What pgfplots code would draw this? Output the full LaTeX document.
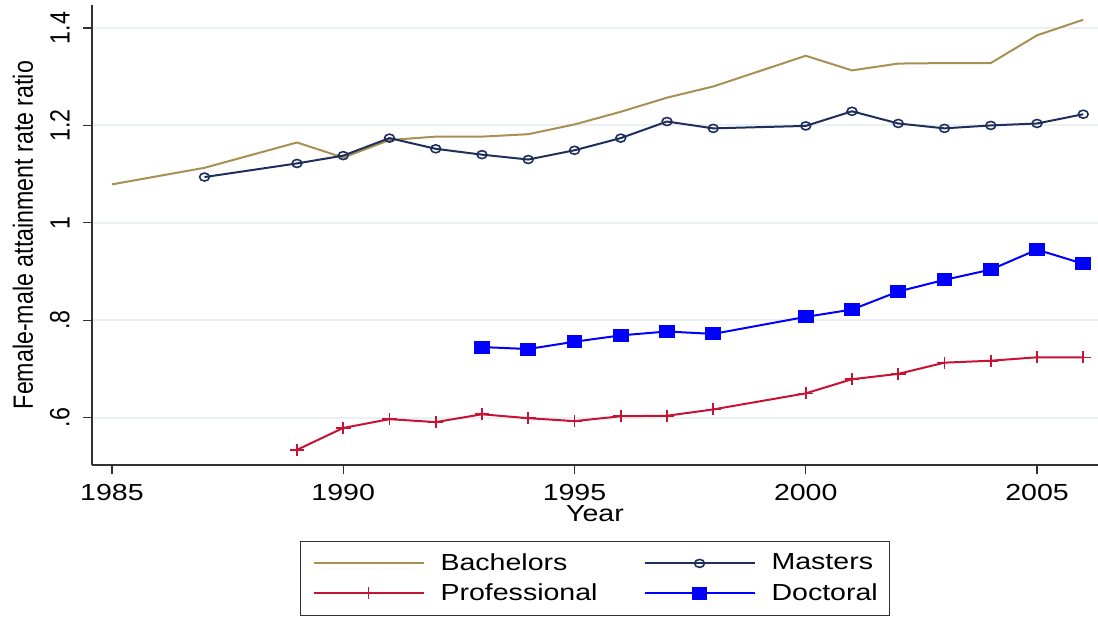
\documentclass[border=0pt]{standalone}
\usepackage{fontspec}
\setmainfont{Liberation Sans}[FakeStretch=1.23]
\newfontfamily\uprightsans{Liberation Sans}
\usepackage{graphicx}
\usepackage{pgfplots}
\pgfplotsset{compat=1.18}

\definecolor{bachcol}{RGB}{168,144,82}
\definecolor{mastcol}{RGB}{32,46,92}
\definecolor{profcol}{RGB}{200,18,52}
\definecolor{doccol}{RGB}{0,0,255}
\definecolor{gridcol}{RGB}{234,241,243}
\definecolor{axiscol}{RGB}{50,50,50}

\newcommand{\lblfont}{\fontsize{11.6}{13.9}\selectfont}
\newcommand{\rot}[1]{\scalebox{1}[1.2]{\uprightsans\lblfont #1}}

\begin{document}
\begin{tikzpicture}
\begin{axis}[
  name=ax, at={(0,0)}, anchor=south west,
  scale only axis, width=503pt, height=230pt,
  xmin=1984.568, xmax=2006.319,
  ymin=0.5029, ymax=1.4472,
  axis lines*=left,
  axis line style={line width=0.6pt, color=axiscol},
  every tick/.style={line width=0.6pt, color=axiscol},
  tick align=outside,
  major tick length=4.5pt,
  xtick={1985,1990,1995,2000,2005},
  ytick={0.6,0.8,1,1.2,1.4},
  yticklabels={\rot{.6},\rot{.8},\rot{1},\rot{1.2},\rot{1.4}},
  /pgf/number format/assume math mode=true,
  /pgf/number format/1000 sep={},
  xticklabel style={font=\lblfont, anchor=north, inner sep=0pt, yshift=-5pt},
  yticklabel style={xshift=-6.5pt, rotate=90, anchor=south, inner sep=0pt},
  ymajorgrids,
  grid style={line width=1pt, color=gridcol},
  legend columns=2,
  legend cell align=left,
  legend style={
    at={(rel axis cs:0.2068,-0.1652)}, anchor=north west,
    draw=axiscol, line width=0.5pt,
    font=\lblfont,
    inner xsep=6pt, inner ysep=6pt,
    row sep=5pt,
    nodes={inner sep=0pt},
    /tikz/every odd column/.style={column sep=8pt},
    /tikz/every even column/.style={column sep=23pt},
  },
  legend image code/.code={
    \draw[mark repeat=2, mark phase=2, #1]
      plot coordinates {(0pt,0pt) (27.5pt,0pt) (55pt,0pt)};
  },
]

% Bachelors
\addplot[color=bachcol, line width=1pt, mark=none] coordinates {
  (1985,1.079) (1987,1.113) (1989,1.165) (1990,1.134) (1991,1.170)
  (1992,1.177) (1993,1.177) (1994,1.182) (1995,1.202) (1996,1.228)
  (1997,1.257) (1998,1.280) (2000,1.343) (2001,1.313) (2002,1.327)
  (2003,1.328) (2004,1.328) (2005,1.385) (2006,1.417)
};
\addlegendentry{Bachelors}

% Masters
\addplot[color=mastcol, line width=1pt, mark=o,
  mark size=2pt, mark options={xscale=1.23, line width=0.8pt}] coordinates {
  (1987,1.094) (1989,1.122) (1990,1.138) (1991,1.174) (1992,1.152)
  (1993,1.140) (1994,1.130) (1995,1.149) (1996,1.174) (1997,1.208)
  (1998,1.194) (2000,1.199) (2001,1.229) (2002,1.204) (2003,1.194)
  (2004,1.200) (2005,1.204) (2006,1.223)
};
\addlegendentry{Masters}

% Professional
\addplot[color=profcol, line width=1pt, mark=+,
  mark size=3pt, mark options={xscale=1.23, line width=0.8pt}] coordinates {
  (1989,0.534) (1990,0.579) (1991,0.597) (1992,0.591) (1993,0.607)
  (1994,0.599) (1995,0.593) (1996,0.603) (1997,0.604) (1998,0.617)
  (2000,0.650) (2001,0.679) (2002,0.690) (2003,0.713) (2004,0.717)
  (2005,0.724) (2006,0.724)
};
\addlegendentry{Professional}

% Doctoral
\addplot[color=doccol, line width=1pt, mark=square*,
  mark size=2.75pt, mark options={xscale=1.23}] coordinates {
  (1993,0.745) (1994,0.741) (1995,0.756) (1996,0.769) (1997,0.777)
  (1998,0.772) (2000,0.807) (2001,0.822) (2002,0.859) (2003,0.883)
  (2004,0.904) (2005,0.945) (2006,0.916)
};
\addlegendentry{Doctoral}
\end{axis}

\node[font=\lblfont, anchor=center] at ([yshift=-24.5pt]ax.south) {Year};
\node[rotate=90, anchor=center] at ([xshift=-34.5pt]ax.west)
  {\rot{Female-male attainment rate ratio}};

\pgfresetboundingbox
\path (-46pt,-76pt) rectangle (503pt,232.5pt);
\end{tikzpicture}
\end{document}
